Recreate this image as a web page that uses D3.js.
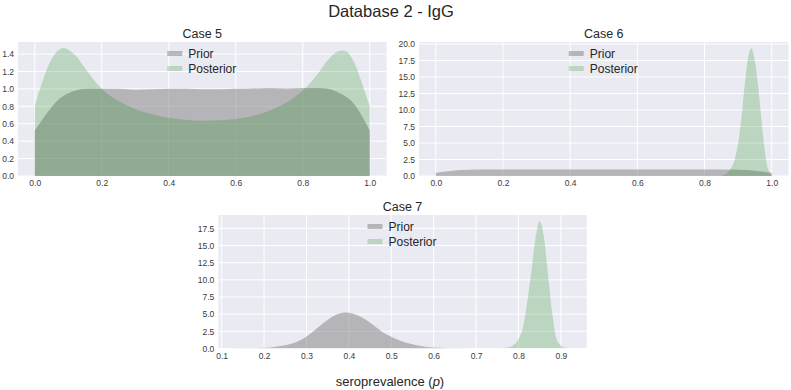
<!DOCTYPE html>
<html>
<head>
<meta charset="utf-8">
<script src="https://cdn.jsdelivr.net/npm/d3@7"></script>
<style>
    body { margin: 0; background: #ffffff; }
    svg  { font-family: "Liberation Sans", Arial, sans-serif; }
    .tick text { fill: #3a3a3a; font-size: 8.5px; }
    .grid line { stroke: #ffffff; stroke-width: 1; }
    .panelTitle { font-size: 12.5px; fill: #262626; }
    .legendText { font-size: 12px; fill: #262626; }
</style>
</head>
<body>
<div id="graph"></div>
<script>
//
// Data...
//
var case5X     = [0, 0.025, 0.05, 0.075, 0.1, 0.125, 0.15, 0.2, 0.25, 0.3, 0.35, 0.4, 0.45, 0.5, 0.55, 0.6, 0.65, 0.7, 0.75, 0.8, 0.85, 0.875, 0.9, 0.925, 0.95, 0.975, 1.0];
var case5Prior = [0.52, 0.66, 0.79, 0.89, 0.95, 0.985, 1.0, 1.0, 1.0, 0.99, 0.995, 1.0, 1.0, 0.995, 0.995, 1.0, 1.005, 1.01, 1.005, 1.01, 1.01, 1.0, 0.97, 0.92, 0.84, 0.70, 0.52];

var case5PostX = [0, 0.02, 0.04, 0.06, 0.085, 0.1, 0.125, 0.15, 0.175, 0.2, 0.25, 0.3, 0.35, 0.4, 0.45, 0.5, 0.55, 0.6, 0.65, 0.7, 0.75, 0.8, 0.825, 0.85, 0.875, 0.9, 0.915, 0.93, 0.95, 0.97, 0.985, 1.0];
var case5Post  = [0.80, 1.05, 1.26, 1.40, 1.47, 1.45, 1.37, 1.24, 1.11, 1.0, 0.86, 0.77, 0.71, 0.67, 0.645, 0.635, 0.64, 0.655, 0.69, 0.75, 0.84, 0.98, 1.08, 1.20, 1.33, 1.42, 1.44, 1.43, 1.33, 1.14, 0.97, 0.80];

var case6PriorX = [0, 0.025, 0.05, 0.075, 0.1, 0.15, 0.2, 0.3, 0.4, 0.5, 0.6, 0.7, 0.8, 0.85, 0.9, 0.925, 0.95, 0.975, 1.0];
var case6Prior  = [0.5, 0.66, 0.8, 0.9, 0.96, 1.0, 1.0, 1.0, 1.0, 1.0, 1.0, 1.0, 1.0, 1.0, 0.96, 0.9, 0.8, 0.66, 0.5];

var case6PostX = [0.84, 0.86, 0.875, 0.89, 0.90, 0.91, 0.92, 0.93, 0.94, 0.95, 0.96, 0.97, 0.98, 0.99, 1.0];
var case6Post  = [0.0, 0.2, 0.9, 2.5, 5.0, 8.8, 14.0, 18.0, 19.35, 17.4, 13.5, 8.3, 3.6, 0.9, 0.1];

var case7PriorX = [0.12, 0.15, 0.18, 0.20, 0.22, 0.24, 0.26, 0.28, 0.30, 0.32, 0.34, 0.36, 0.38, 0.39, 0.40, 0.42, 0.44, 0.46, 0.48, 0.50, 0.52, 0.54, 0.56, 0.58, 0.60, 0.63, 0.66, 0.69, 0.72];
var case7Prior  = [0.0, 0.02, 0.05, 0.1, 0.2, 0.36, 0.62, 1.05, 1.75, 2.7, 3.7, 4.6, 5.15, 5.25, 5.2, 4.85, 4.2, 3.3, 2.35, 1.7, 1.15, 0.75, 0.46, 0.27, 0.16, 0.07, 0.03, 0.01, 0.0];

var case7PostX = [0.745, 0.77, 0.79, 0.80, 0.81, 0.82, 0.83, 0.84, 0.85, 0.86, 0.87, 0.88, 0.89, 0.90, 0.91, 0.93];
var case7Post  = [0.0, 0.1, 0.6, 1.4, 2.9, 6.5, 11.0, 16.0, 18.55, 16.3, 10.6, 5.0, 1.4, 0.45, 0.12, 0.0];

var xTicks01   = [0, 0.2, 0.4, 0.6, 0.8, 1.0];
var xTicks7    = [0.1, 0.2, 0.3, 0.4, 0.5, 0.6, 0.7, 0.8, 0.9];
var yTicks5    = [0, 0.2, 0.4, 0.6, 0.8, 1.0, 1.2, 1.4];
var yTicks6    = [0, 2.5, 5, 7.5, 10, 12.5, 15, 17.5, 20];
var yTicks7    = [0, 2.5, 5, 7.5, 10, 12.5, 15, 17.5];

var legendLabels  = ['Prior', 'Posterior'];
var priorColour   = 'rgba(128,128,128,0.5)';
var postColour    = 'rgba(0,128,0,0.2)';

function zipXY (xs, ys)
{
    return xs.map (function (x, i) { return { x: x, y: ys[i] }; });
}

//
// Layout
//
var W = 791, H = 390;

var svg = d3.select ('div#graph')
            .append ('svg')
            .attr ('width', W)
            .attr ('height', H);

svg.append ('text')
   .attr ('x', 391)
   .attr ('y', 16.5)
   .style ('text-anchor', 'middle')
   .style ('font-size', '16.5px')
   .style ('fill', '#262626')
   .text ('Database 2 - IgG');

var panels = [
    { id: 'p5', title: 'Case 5', left: 18,    right: 386.5, top: 42,  bottom: 176,
      xDom: [-0.05, 1.05], yDom: [0, 1.538], xTicks: xTicks01, yTicks: yTicks5, xFmt: '.1f', yFmt: '.1f',
      prior: zipXY (case5X, case5Prior), post: zipXY (case5PostX, case5Post) },
    { id: 'p6', title: 'Case 6', left: 419,   right: 788.5, top: 42,  bottom: 176,
      xDom: [-0.05, 1.05], yDom: [0, 20.3],  xTicks: xTicks01, yTicks: yTicks6, xFmt: '.1f', yFmt: '.1f',
      prior: zipXY (case6PriorX, case6Prior), post: zipXY (case6PostX, case6Post) },
    { id: 'p7', title: 'Case 7', left: 218.3, right: 586.7, top: 215, bottom: 348.5,
      xDom: [0.092, 0.961], yDom: [0, 19.45], xTicks: xTicks7, yTicks: yTicks7, xFmt: '.1f', yFmt: '.1f',
      prior: zipXY (case7PriorX, case7Prior), post: zipXY (case7PostX, case7Post) }
];

panels.forEach (function (p)
{
    var w = p.right - p.left;
    var h = p.bottom - p.top;

    var xScale = d3.scaleLinear ().domain (p.xDom).range ([0, w]);
    var yScale = d3.scaleLinear ().domain (p.yDom).range ([h, 0]);

    var g = svg.append ('g')
               .attr ('transform', 'translate(' + p.left + ',' + p.top + ')');

    g.append ('rect')
     .attr ('width', w)
     .attr ('height', h)
     .attr ('fill', '#eaeaf2');

    // grid
    g.append ('g')
     .attr ('class', 'grid')
     .selectAll ('line.v')
     .data (p.xTicks)
     .enter ()
     .append ('line')
     .attr ('x1', function (d) { return xScale (d); })
     .attr ('x2', function (d) { return xScale (d); })
     .attr ('y1', 0)
     .attr ('y2', h);

    g.append ('g')
     .attr ('class', 'grid')
     .selectAll ('line.h')
     .data (p.yTicks)
     .enter ()
     .append ('line')
     .attr ('x1', 0)
     .attr ('x2', w)
     .attr ('y1', function (d) { return yScale (d); })
     .attr ('y2', function (d) { return yScale (d); });

    // axes (no tick marks, seaborn style)
    var xAxis = d3.axisBottom (xScale)
                  .tickValues (p.xTicks)
                  .tickSize (0)
                  .tickPadding (4)
                  .tickFormat (d3.format (p.xFmt));

    var yAxis = d3.axisLeft (yScale)
                  .tickValues (p.yTicks)
                  .tickSize (0)
                  .tickPadding (4)
                  .tickFormat (d3.format (p.yFmt));

    g.append ('g')
     .attr ('transform', 'translate(0,' + h + ')')
     .call (xAxis)
     .call (function (s) { s.select ('.domain').remove (); });

    g.append ('g')
     .call (yAxis)
     .call (function (s) { s.select ('.domain').remove (); });

    // densities
    g.append ('clipPath')
     .attr ('id', 'clip-' + p.id)
     .append ('rect')
     .attr ('width', w)
     .attr ('height', h);

    var area = d3.area ()
                 .x  (function (d) { return xScale (d.x); })
                 .y0 (yScale (0))
                 .y1 (function (d) { return yScale (d.y); })
                 .curve (d3.curveMonotoneX);

    g.append ('path')
     .datum (p.prior)
     .attr ('clip-path', 'url(#clip-' + p.id + ')')
     .attr ('fill', priorColour)
     .attr ('d', area);

    g.append ('path')
     .datum (p.post)
     .attr ('clip-path', 'url(#clip-' + p.id + ')')
     .attr ('fill', postColour)
     .attr ('d', area);

    // title
    g.append ('text')
     .attr ('class', 'panelTitle')
     .attr ('x', w / 2)
     .attr ('y', -4)
     .style ('text-anchor', 'middle')
     .text (p.title);

    // legend
    var legendColours = [priorColour, postColour];
    for (var i = 0; i < 2; i++)
    {
        var cy = 11.5 + 15 * i;

        g.append ('rect')
         .attr ('x', w / 2 - 35)
         .attr ('y', cy - 2.5)
         .attr ('width', 15)
         .attr ('height', 5)
         .attr ('fill', legendColours[i]);

        g.append ('text')
         .attr ('class', 'legendText')
         .attr ('x', w / 2 - 14)
         .attr ('y', cy + 4.3)
         .text (legendLabels[i]);
    }
});

// common x label
var xLabel = svg.append ('text')
                .attr ('x', 390)
                .attr ('y', 386)
                .style ('text-anchor', 'middle')
                .style ('font-size', '13px')
                .style ('fill', '#262626');

xLabel.append ('tspan').text ('seroprevalence (');
xLabel.append ('tspan').style ('font-style', 'italic').text ('p');
xLabel.append ('tspan').text (')');
</script>
</body>
</html>
